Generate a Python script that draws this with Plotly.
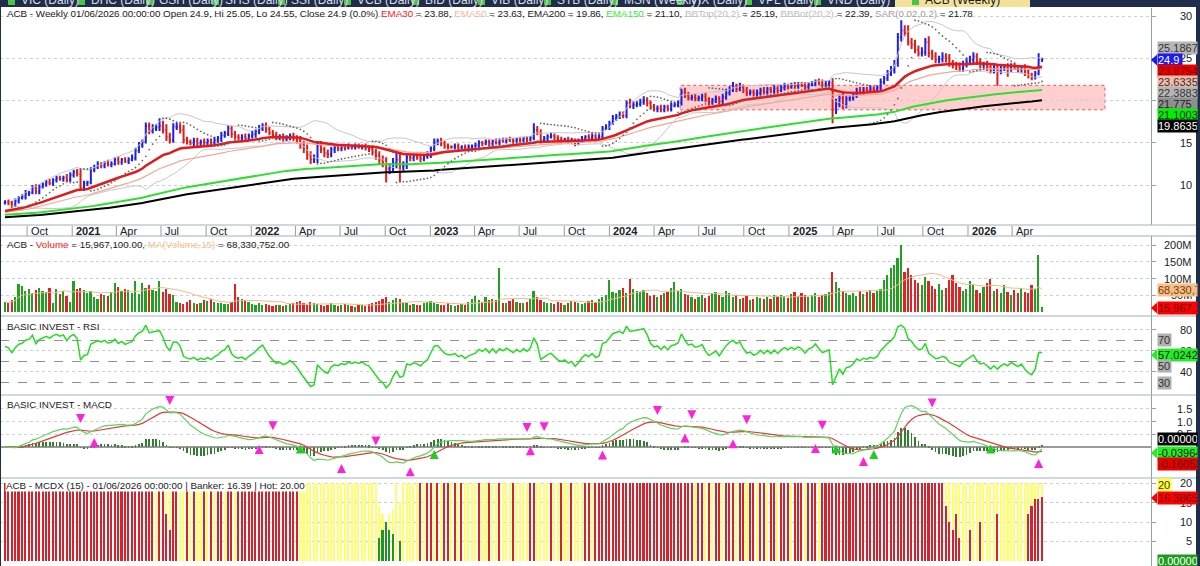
import numpy as np
import pandas as pd
import plotly.graph_objects as go

# ---------------- data ----------------
start_date = "2020-08-17"
first_open = 7.9
close = [
 8.0,7.9,7.6,8.1,8.5,8.6,9.0,9.1,9.7,9.2,9.8,10.1,10.3,10.2,10.6,10.8,10.7,10.9,10.6,11.2,
 11.5,11.3,9.7,10.2,10.3,11.8,12.1,12.4,12.3,12.6,12.4,12.5,13.0,12.7,13.0,12.8,13.0,13.2,14.1,14.7,
 15.1,17.0,16.4,16.7,16.8,17.0,16.5,15.7,15.3,16.9,16.9,16.5,15.3,15.1,15.0,15.2,14.9,15.1,15.0,15.2,
 15.0,15.3,15.5,15.9,16.1,16.7,16.0,15.7,15.6,15.7,15.5,15.8,16.0,16.3,16.7,17.0,16.6,16.2,15.9,15.6,
 15.7,15.5,15.6,15.8,15.6,15.3,14.8,14.3,13.6,13.0,13.1,14.7,14.2,13.8,13.6,14.2,14.4,14.3,14.5,14.4,
 14.6,14.5,14.6,14.5,14.6,14.4,14.3,13.9,13.5,13.0,12.7,11.9,12.1,12.6,13.0,12.2,12.3,13.3,13.2,13.4,
 13.3,13.1,13.4,13.6,14.3,15.1,15.2,14.9,14.6,14.5,14.5,14.6,14.4,14.5,14.3,14.5,14.6,14.7,15.0,14.9,
 15.1,14.9,15.2,15.0,15.3,15.2,15.4,15.3,15.2,15.4,15.3,15.5,15.4,15.6,16.5,16.2,15.3,15.5,15.7,15.8,
 15.6,15.4,15.3,15.4,15.2,15.3,15.0,15.2,15.5,15.7,15.6,15.8,15.6,15.7,16.7,16.8,17.3,17.9,18.1,18.3,
 18.2,19.7,19.4,19.5,19.6,19.8,20.0,19.7,19.2,19.0,19.1,18.9,19.2,19.0,19.4,19.5,19.7,21.0,20.6,20.3,
 20.4,20.2,20.3,20.5,20.1,19.8,20.0,20.2,19.9,20.4,20.9,21.3,21.6,21.4,21.6,21.2,20.9,21.0,20.8,20.9,
 21.2,21.0,21.3,21.1,21.4,21.2,21.5,21.7,21.6,21.8,21.7,21.9,21.8,21.6,21.9,22.0,22.3,22.1,21.9,22.0,
 22.1,18.9,19.6,20.3,19.5,20.2,20.3,20.6,21.2,21.0,21.3,21.2,21.4,21.3,21.5,22.2,22.6,23.2,23.6,24.4,
 27.5,28.3,28.0,26.9,26.6,26.0,25.6,25.7,26.9,25.6,25.2,24.8,24.9,25.2,25.0,24.4,24.2,24.0,23.8,24.3,
 24.6,24.8,25.2,24.6,24.2,24.3,24.0,23.6,23.9,23.5,23.8,24.0,23.8,24.1,23.9,23.7,23.9,23.4,23.0,22.8,
 23.2,24.9,24.9]
hi_ext = [
 0.2,0.3,0.2,0.3,0.2,0.3,0.4,0.2,0.3,0.4,0.3,0.2,0.3,0.4,0.2,0.3,0.3,0.2,0.4,0.3,
 0.3,0.4,0.6,0.3,0.2,0.3,0.3,0.4,0.3,0.2,0.4,0.3,0.3,0.4,0.2,0.3,0.3,0.4,0.3,0.4,
 0.3,0.4,0.4,0.5,0.4,0.9,0.6,0.7,0.5,0.4,0.5,0.4,0.6,0.4,0.3,0.4,0.4,0.3,0.4,0.3,
 0.3,0.4,0.3,0.4,0.3,0.4,0.3,0.4,0.3,0.3,0.4,0.3,0.4,0.3,0.4,0.3,0.4,0.3,0.3,0.4,
 0.3,0.4,0.3,0.3,0.4,0.3,0.5,0.4,0.5,0.4,0.5,0.4,0.5,0.3,0.4,0.3,0.3,0.4,0.3,0.3,
 0.3,0.2,0.3,0.3,0.2,0.3,0.3,0.4,0.4,0.5,0.5,0.6,0.5,0.6,0.8,0.7,0.5,0.4,0.4,0.3,
 0.3,0.4,0.3,0.4,0.3,0.4,0.3,0.4,0.3,0.3,0.2,0.3,0.3,0.2,0.3,0.3,0.2,0.3,0.3,0.2,
 0.3,0.3,0.2,0.3,0.2,0.3,0.2,0.3,0.3,0.2,0.3,0.2,0.3,0.2,0.8,0.5,0.4,0.3,0.3,0.4,
 0.3,0.3,0.3,0.2,0.3,0.3,0.2,0.3,0.3,0.2,0.3,0.3,0.2,0.3,0.3,0.4,0.3,0.4,0.3,0.4,
 0.4,0.3,0.5,0.4,0.3,0.4,0.5,0.4,0.3,0.4,0.3,0.4,0.3,0.3,0.4,0.3,0.3,0.4,0.5,0.4,
 0.3,0.4,0.3,0.3,0.4,0.3,0.3,0.4,0.3,0.4,0.5,0.4,0.6,0.4,0.5,0.3,0.4,0.3,0.3,0.4,
 0.3,0.4,0.3,0.3,0.4,0.3,0.3,0.4,0.3,0.3,0.4,0.3,0.3,0.4,0.3,0.3,0.2,0.3,0.4,0.3,
 0.3,0.5,0.6,0.4,0.6,0.4,0.3,0.4,0.3,0.4,0.3,0.3,0.4,0.3,0.3,0.4,0.3,0.4,0.5,0.4,
 0.5,1.2,0.6,0.9,0.5,0.6,0.5,0.6,0.5,0.7,0.4,0.5,0.4,0.5,0.4,0.5,0.4,0.4,0.5,0.4,
 0.4,0.5,0.5,0.4,0.4,0.3,0.4,0.3,0.4,0.3,0.4,0.3,0.4,0.3,0.4,0.3,0.3,0.4,0.3,0.3,
 0.3,0.7,0.15]
lo_ext = [
 0.2,0.3,0.3,0.2,0.3,0.2,0.3,0.3,0.2,0.3,0.3,0.2,0.3,0.2,0.3,0.3,0.2,0.3,0.3,0.2,
 0.3,0.3,0.3,0.4,0.3,0.2,0.3,0.2,0.3,0.3,0.2,0.3,0.2,0.3,0.3,0.2,0.3,0.2,0.3,0.3,
 0.3,0.2,0.4,0.3,0.3,0.4,0.4,0.5,0.4,0.3,0.4,0.4,0.4,0.3,0.3,0.4,0.3,0.3,0.4,0.3,
 0.3,0.3,0.3,0.4,0.3,0.3,0.4,0.3,0.3,0.4,0.3,0.3,0.3,0.4,0.3,0.3,0.4,0.3,0.4,0.3,
 0.3,0.4,0.3,0.3,0.4,0.4,0.5,0.5,0.6,0.5,0.4,0.5,0.4,0.5,0.4,0.3,0.4,0.3,0.3,0.3,
 0.2,0.3,0.3,0.2,0.3,0.3,0.4,0.4,0.5,0.5,0.6,1.6,0.6,0.5,0.6,1.8,0.6,0.4,0.4,0.4,
 0.3,0.4,0.3,0.3,0.4,0.3,0.4,0.3,0.3,0.3,0.2,0.3,0.3,0.2,0.3,0.3,0.3,0.2,0.3,0.3,
 0.2,0.3,0.3,0.2,0.3,0.2,0.3,0.2,0.3,0.2,0.3,0.2,0.3,0.2,0.3,0.3,0.4,0.3,0.3,0.2,
 0.3,0.3,0.3,0.2,0.3,0.3,0.4,0.3,0.2,0.3,0.2,0.3,0.3,0.2,0.3,0.2,0.3,0.2,0.3,0.3,
 0.3,0.3,0.3,0.4,0.3,0.3,0.3,0.4,0.3,0.3,0.4,0.3,0.3,0.3,0.3,0.2,0.3,0.3,0.3,0.3,
 0.3,0.3,0.3,0.4,0.3,0.4,0.3,0.3,0.4,0.3,0.3,0.3,0.3,0.4,0.3,0.3,0.4,0.3,0.3,0.3,
 0.3,0.3,0.3,0.2,0.3,0.3,0.2,0.3,0.3,0.2,0.3,0.3,0.2,0.3,0.3,0.2,0.3,0.3,0.3,0.3,
 0.3,1.6,0.5,0.4,0.5,0.4,0.3,0.3,0.3,0.3,0.3,0.3,0.3,0.3,0.3,0.3,0.3,0.3,0.3,0.4,
 0.4,0.5,0.4,0.4,0.5,0.4,0.4,0.4,0.4,0.5,0.4,0.4,0.4,0.4,0.5,0.4,0.4,0.4,0.4,0.4,
 0.4,0.4,0.5,0.4,0.4,0.4,0.5,0.4,0.4,1.75,0.4,0.3,1.0,0.4,0.3,0.4,0.4,0.5,0.4,0.4,
 0.3,0.2,0.35]
volume_m = [
 30,28,35,45,84,79,62,70,58,66,72,62,60,73,26,68,55,62,48,30,
 94,70,72,66,58,62,45,40,55,52,48,60,88,75,62,70,66,58,94,55,
 88,72,80,66,62,94,60,70,55,50,30,28,25,30,35,26,24,28,35,33,
 38,30,26,28,25,24,30,83,45,40,36,30,24,22,26,20,24,22,18,20,
 22,18,20,24,26,30,34,28,22,30,26,24,20,18,22,26,20,18,22,24,
 20,18,16,22,20,18,24,26,30,34,40,44,30,36,42,38,28,26,22,24,
 20,22,26,30,34,28,24,22,20,26,22,18,20,24,22,30,40,48,36,30,
 44,36,40,36,130,26,28,34,38,30,28,26,30,40,62,44,36,30,28,26,
 24,30,26,22,28,34,30,26,24,28,32,36,30,40,46,52,96,60,58,66,
 72,58,100,70,64,60,66,58,48,52,44,50,56,60,72,90,62,68,54,50,
 46,40,44,50,42,48,56,60,50,46,62,58,44,52,40,42,48,36,40,46,
 42,38,44,40,50,46,52,48,42,54,60,48,56,50,44,52,58,46,50,54,
 60,120,90,72,64,58,50,56,48,62,54,60,66,58,64,70,96,110,130,140,
 160,200,120,130,110,95,88,80,105,92,78,70,84,66,72,96,110,86,74,62,
 70,92,80,66,58,74,86,100,64,70,56,82,60,52,66,58,72,60,56,80,
 70,170,15.9671]
banker = [
 20,20,19,20,20,20,20,20,20,20,20,20,20,20,20,20,20,20,20,20,
 20,20,18,19,20,20,20,20,20,20,20,20,20,20,20,20,20,20,20,20,
 20,20,20,20,0,20,20,12,8,20,20,0,0,20,0,20,0,0,20,0,
 20,0,20,20,0,20,20,0,20,20,20,20,20,20,20,20,20,20,20,20,
 20,20,20,20,20,20,0,0,0,0,0,0,0,0,0,0,0,0,0,0,
 0,0,0,0,0,0,0,0,0,0,0,0,0,0,0,0,0,0,0,0,
 0,20,0,20,20,0,20,0,20,20,0,20,0,20,0,0,0,0,20,0,
 0,20,0,0,20,0,0,0,20,0,0,0,0,20,20,0,0,0,0,20,
 0,0,20,0,0,20,0,0,0,20,20,0,20,20,20,20,20,20,20,20,
 20,20,20,20,20,20,20,20,20,20,20,20,20,20,20,20,20,20,20,20,
 20,0,20,20,0,20,0,20,20,0,20,20,20,0,20,20,0,20,20,0,
 20,20,0,20,20,0,20,20,20,0,20,20,20,0,20,20,20,0,20,20,
 20,20,20,20,20,20,20,20,20,20,20,20,20,20,20,20,20,20,20,20,
 20,20,20,20,20,20,20,20,20,20,20,20,20,20,14,10,8,12,6,0,
 0,8,0,0,10,0,0,0,0,12,0,0,0,0,0,0,0,0,12,14,
 16,16,16.39]
hot = [
 20,20,20,20,20,20,20,20,20,20,20,20,20,20,20,20,20,20,20,20,
 20,20,20,20,20,20,20,20,20,20,20,20,20,20,20,20,20,20,20,20,
 20,20,20,20,20,20,20,20,20,20,20,20,20,20,20,20,20,20,20,20,
 20,20,20,20,20,20,20,20,20,20,20,20,20,20,20,20,20,20,20,20,
 20,20,20,20,20,20,20,20,20,20,20,20,20,20,20,20,20,20,20,20,
 20,20,20,20,20,20,20,20,20,14,12,10,12,13,20,15,20,20,20,20,
 20,20,20,20,20,20,20,20,20,20,20,20,20,20,20,20,20,20,20,20,
 20,20,20,20,20,20,20,20,20,20,20,20,20,20,20,20,20,20,20,20,
 20,20,20,20,20,20,20,20,20,20,20,20,20,20,20,20,20,20,20,20,
 20,20,20,20,20,20,20,20,20,20,20,20,20,20,20,20,20,20,20,20,
 20,20,20,20,20,20,20,20,20,20,20,20,20,20,20,20,20,20,20,20,
 20,20,20,20,20,20,20,20,20,20,20,20,20,20,20,20,20,20,20,20,
 20,20,20,20,20,20,20,20,20,20,20,20,20,20,20,20,20,20,20,20,
 20,20,20,20,20,20,20,20,20,20,20,20,20,20,20,20,20,20,20,20,
 20,20,20,20,20,20,20,20,20,20,20,20,20,20,20,20,20,20,20,20,
 20,20,20]
retail = [
 0,0,0,0,0,0,0,0,0,0,0,0,0,0,0,0,0,0,0,0,
 0,0,0,0,0,0,0,0,0,0,0,0,0,0,0,0,0,0,0,0,
 0,0,0,0,0,0,0,0,0,0,0,0,0,0,0,0,0,0,0,0,
 0,0,0,0,0,0,0,0,0,0,0,0,0,0,0,0,0,0,0,0,
 0,0,0,0,0,0,0,0,0,0,0,0,0,0,0,0,0,0,0,0,
 0,0,0,0,0,0,0,0,0,6,8,10,8,7,0,5,0,0,0,0,
 0,0,0,0,0,0,0,0,0,0,0,0,0,0,0,0,0,0,0,0,
 0,0,0,0,0,0,0,0,0,0,0,0,0,0,0,0,0,0,0,0,
 0,0,0,0,0,0,0,0,0,0,0,0,0,0,0,0,0,0,0,0,
 0,0,0,0,0,0,0,0,0,0,0,0,0,0,0,0,0,0,0,0,
 0,0,0,0,0,0,0,0,0,0,0,0,0,0,0,0,0,0,0,0,
 0,0,0,0,0,0,0,0,0,0,0,0,0,0,0,0,0,0,0,0,
 0,0,0,0,0,0,0,0,0,0,0,0,0,0,0,0,0,0,0,0,
 0,0,0,0,0,0,0,0,0,0,0,0,0,0,0,0,0,0,0,0,
 0,0,0,0,0,0,0,0,0,0,0,0,0,0,0,0,0,0,0,0,
 0,0,0]

ema_seeds = {30: 6.84, 50: 6.7, 150: 6.45, 200: 6.18}
rsi_seed_gain, rsi_seed_loss = 0.20, 0.11
zone_low, zone_high = 18.9, 21.8
zone_start, zone_end = 196.6, 320.3

tick_labels = ["Oct", "2021", "Apr", "Jul", "Oct", "2022", "Apr", "Jul", "Oct", "2023", "Apr", "Jul",
               "Oct", "2024", "Apr", "Jul", "Oct", "2025", "Apr", "Jul", "Oct", "2026", "Apr"]
tick_dates = ["2020-10-01", "2021-01-01", "2021-04-01", "2021-07-01", "2021-10-01", "2022-01-01",
              "2022-04-01", "2022-07-01", "2022-10-01", "2023-01-01", "2023-04-01", "2023-07-01",
              "2023-10-01", "2024-01-01", "2024-04-01", "2024-07-01", "2024-10-01", "2025-01-01",
              "2025-04-01", "2025-07-01", "2025-10-01", "2026-01-01", "2026-04-01"]

tab_names = ["VIC (Daily)", "DHC (Daily)", "GSH (Daily)", "SHS (Daily)", "SSI (Daily)", "VCB (Daily)",
             "BID (Daily)", "VIB (Daily)", "STB (Daily)", "MSN (Weekly)", "VIX (Daily)", "VPL (Daily)",
             "VND (Daily)", "ACB (Weekly)"]

# ---------------- computations ----------------
n = len(close)
X = np.arange(n)
c = np.array(close, float)
o = np.concatenate([[first_open], c[:-1]])
h = np.maximum(o, c) + np.array(hi_ext)
l = np.minimum(o, c) - np.array(lo_ext)
vol = np.array(volume_m) * 1e6


def ema(x, span, seed):
    a = 2.0 / (span + 1)
    e = seed
    out = []
    for v in x:
        e = e + a * (v - e)
        out.append(e)
    return np.array(out)


e30 = ema(c, 30, ema_seeds[30])
e50 = ema(c, 50, ema_seeds[50])
e150 = ema(c, 150, ema_seeds[150])
e200 = ema(c, 200, ema_seeds[200])
s = pd.Series(c)
mid = s.rolling(20, min_periods=3).mean()
sd = s.rolling(20, min_periods=3).std(ddof=0)
bbt = mid + 2 * sd
bbb = mid - 2 * sd


def psar(h, l, step=0.02, mx=0.2):
    n = len(h)
    sar = np.full(n, np.nan)
    bull = True
    af = step
    ep = h[0]
    sar[0] = l[0]
    for i in range(1, n):
        prev = sar[i - 1]
        sv = prev + af * (ep - prev)
        if bull:
            sv = min(sv, l[i - 1], l[max(i - 2, 0)])
            if l[i] < sv:
                bull = False
                sv = ep
                ep = l[i]
                af = step
            elif h[i] > ep:
                ep = h[i]
                af = min(af + step, mx)
        else:
            sv = max(sv, h[i - 1], h[max(i - 2, 0)])
            if h[i] > sv:
                bull = True
                sv = ep
                ep = h[i]
                af = step
            elif l[i] < ep:
                ep = l[i]
                af = min(af + step, mx)
        sar[i] = sv
    return sar


sar = psar(h, l)
sar[:4] = np.nan

# RSI (Wilder, 14)
ag, al = rsi_seed_gain, rsi_seed_loss
rsi = [100 - 100 / (1 + ag / al)]
for i in range(1, n):
    ch = c[i] - c[i - 1]
    ag = (ag * 13 + max(ch, 0)) / 14
    al = (al * 13 + max(-ch, 0)) / 14
    rsi.append(100 - 100 / (1 + ag / al))
rsi = np.array(rsi)

e12 = ema(c, 12, c[0])
e26 = ema(c, 26, c[0])
macd = e12 - e26
sig = ema(macd, 9, macd[0])
hist = macd - sig

vma = pd.Series(vol).rolling(15, min_periods=1).mean()

# ---------------- layout helpers ----------------
W, H = 1200, 566
PX_PER_BAR = 3.434
x_min = -5 / PX_PER_BAR
x_max = (1151 - 5) / PX_PER_BAR
XD = 1151 / W


def py(p):
    return 1 - p / H


FONT = "Liberation Sans, Arial, sans-serif"
AXC = "#8ea3ad"

fig = go.Figure()

# price panel
fig.add_trace(go.Scatter(x=X, y=bbt, mode="lines", line=dict(color="#c8c8c8", width=1), xaxis="x", yaxis="y"))
fig.add_trace(go.Scatter(x=X, y=bbb, mode="lines", line=dict(color="#c8c8c8", width=1), xaxis="x", yaxis="y"))
fig.add_trace(go.Scatter(x=X, y=e200, mode="lines", line=dict(color="#000000", width=2), xaxis="x", yaxis="y"))
fig.add_trace(go.Scatter(x=X, y=e150, mode="lines", line=dict(color="#2ee02e", width=2), xaxis="x", yaxis="y"))
fig.add_trace(go.Scatter(x=X, y=e50, mode="lines", line=dict(color="#f0a898", width=1.2), xaxis="x", yaxis="y"))
fig.add_trace(go.Scatter(x=X, y=e30, mode="lines", line=dict(color="#e21a1a", width=2.5), xaxis="x", yaxis="y"))
fig.add_trace(go.Scatter(x=X, y=sar, mode="markers", marker=dict(color="#6a6a6a", size=1.8), xaxis="x", yaxis="y"))
fig.add_trace(go.Ohlc(x=X, open=o, high=h, low=l, close=c, xaxis="x", yaxis="y", tickwidth=0.35,
                      increasing=dict(line=dict(color="#1f1fe6", width=2)),
                      decreasing=dict(line=dict(color="#e01b1b", width=2))))

# volume panel
vcol = ["#22a022" if c[i] >= o[i] else "#e02424" for i in range(n)]
fig.add_trace(go.Bar(x=X, y=vol, marker=dict(color=vcol, line=dict(width=0)), width=0.5, xaxis="x2", yaxis="y2"))
fig.add_trace(go.Scatter(x=X, y=vma, mode="lines", line=dict(color="#f2b98a", width=1), xaxis="x2", yaxis="y2"))

# RSI panel
for lv in (70, 50, 30):
    fig.add_trace(go.Scatter(x=[x_min, x_max], y=[lv, lv], mode="lines",
                             line=dict(color="#909090", width=1, dash="dash"), xaxis="x3", yaxis="y3"))
fig.add_trace(go.Scatter(x=X, y=rsi, mode="lines", line=dict(color="#22dd22", width=1.5), xaxis="x3", yaxis="y3"))

# MACD panel
fig.add_trace(go.Scatter(x=[x_min, x_max], y=[0, 0], mode="lines", line=dict(color="#7a7a7a", width=1.5),
                         xaxis="x4", yaxis="y4"))
fig.add_trace(go.Bar(x=X, y=hist, marker=dict(color="#2f7f2f", line=dict(width=0)), width=0.22,
                     xaxis="x4", yaxis="y4"))
fig.add_trace(go.Scatter(x=X, y=sig, mode="lines", line=dict(color="#e03c3c", width=1.2), xaxis="x4", yaxis="y4"))
fig.add_trace(go.Scatter(x=X, y=macd, mode="lines", line=dict(color="#5fd35f", width=1.2), xaxis="x4", yaxis="y4"))
dd = macd - sig
ux, uy, dx_, dy_ = [], [], [], []
for i in range(6, n):
    if dd[i] > 0 >= dd[i - 1]:
        ux.append(i); uy.append(min(macd[i], sig[i]) - 0.28)
    elif dd[i] < 0 <= dd[i - 1]:
        dx_.append(i); dy_.append(max(macd[i], sig[i]) + 0.28)
fig.add_trace(go.Scatter(x=ux, y=uy, mode="markers", marker=dict(symbol="arrow-up", size=9, color="#ff22dd"),
                         xaxis="x4", yaxis="y4"))
fig.add_trace(go.Scatter(x=dx_, y=dy_, mode="markers", marker=dict(symbol="arrow-down", size=9, color="#ff22dd"),
                         xaxis="x4", yaxis="y4"))
gx, gy = [], []
for i in range(6, n):
    if (macd[i] > 0) != (macd[i - 1] > 0):
        gx.append(i); gy.append(-0.12 if macd[i] > 0 else 0.1)
fig.add_trace(go.Scatter(x=gx, y=gy, mode="markers", marker=dict(symbol="arrow-up", size=9, color="#22cc22"),
                         xaxis="x4", yaxis="y4"))

# MCDX panel
fig.add_trace(go.Bar(x=X, y=hot, marker=dict(color="#ffff6e", line=dict(width=0)), width=0.45, xaxis="x5", yaxis="y5"))
fig.add_trace(go.Bar(x=X, y=banker, marker=dict(color="#d6222c", line=dict(width=0)), width=0.45, xaxis="x5", yaxis="y5"))
fig.add_trace(go.Bar(x=X, y=retail, marker=dict(color="#1e961e", line=dict(width=0)), width=0.45, xaxis="x5", yaxis="y5"))

# axes
panels = [
    ("", (225, 8), [5.27, 30.95], [10, 15, 20, 25, 30], ["10", "15", "20", "25", "30"]),
    ("2", (316, 236), [-11.9e6, 226.9e6], [50e6, 100e6, 150e6, 200e6], ["50M", "100M", "150M", "200M"]),
    ("3", (395, 316), [18.1, 93.3], [40, 60, 80], ["40", "60", "80"]),
    ("4", (478, 395), [-1.22, 2.05], [0.5, 1.0, 1.5], ["0.5", "1.0", "1.5"]),
    ("5", (566, 478), [-1.3, 21.3], [5, 10, 15, 20], ["5", "10", "15", "20"]),
]
lay = {}
ann = []
for k, (bot, top), rng, tv, tt in panels:
    lay["xaxis" + k] = dict(domain=[0, XD], range=[x_min, x_max], visible=False, anchor="y" + k,
                            **({} if k == "" else {"matches": "x"}))
    lay["yaxis" + k] = dict(domain=[py(bot), py(top)], range=rng, side="right", anchor="x" + k,
                            tickvals=tv, showticklabels=False, showline=True, linecolor=AXC, linewidth=1,
                            ticks="outside", ticklen=4, tickcolor=AXC, showgrid=True, gridcolor="#cfcfcf",
                            griddash="dot", gridwidth=1, zeroline=False, fixedrange=True)
    for v, t in zip(tv, tt):
        ann.append(dict(x=1194 / W, y=v, xref="paper", yref="y" + k, text=t, showarrow=False,
                        xanchor="right", yanchor="middle", font=dict(family=FONT, size=11, color="#222")))
fig.update_layout(**lay)
fig.update_layout(xaxis_rangeslider_visible=False)

shapes = []

# support zone
shapes.append(dict(type="rect", xref="x", yref="y", x0=zone_start, x1=zone_end, y0=zone_low, y1=zone_high,
                   fillcolor="rgba(255,140,140,0.42)", line=dict(color="#e85a5a", width=1, dash="dot"),
                   layer="below"))

# panel separators
for yp in (225, 236, 316, 395, 478):
    shapes.append(dict(type="line", xref="paper", yref="paper", x0=0, x1=1, y0=py(yp), y1=py(yp),
                       line=dict(color="#9fb2bb", width=1)))
# top tab bar & right border
shapes.append(dict(type="rect", xref="paper", yref="paper", x0=0, x1=1, y0=py(7), y1=1,
                   fillcolor="#1f2d4a", line=dict(width=0)))
shapes.append(dict(type="rect", xref="paper", yref="paper", x0=1196 / W, x1=1, y0=0, y1=1,
                   fillcolor="#1f2d4a", line=dict(width=0)))
shapes.append(dict(type="line", xref="paper", yref="paper", x0=0.5 / W, x1=0.5 / W, y0=0, y1=py(7),
                   line=dict(color="#1f2d4a", width=1)))

tab_x = [8, 78, 146, 212, 278, 344, 412, 478, 544, 611, 677, 745, 814, 912]
for i, name in enumerate(tab_names):
    xl = tab_x[i]
    if name == "ACB (Weekly)":
        shapes.append(dict(type="rect", xref="paper", yref="paper", x0=895 / W, x1=1030 / W, y0=py(7), y1=1,
                           fillcolor="#f3e19a", line=dict(width=0)))
    shapes.append(dict(type="rect", xref="paper", yref="paper", x0=xl / W, x1=(xl + 7) / W, y0=py(5), y1=1,
                       fillcolor="#4cc24c", line=dict(width=0)))
    ann.append(dict(x=(xl + 11) / W, y=py(0), xref="paper", yref="paper", text=name, showarrow=False,
                    xanchor="left", yanchor="middle",
                    font=dict(family=FONT, size=12, color="#1a1a1a" if name == "ACB (Weekly)" else "#d8dde6")))

# x tick marks & labels
d0 = pd.Timestamp(start_date)
for lab, ds in zip(tick_labels, tick_dates):
    pos = (pd.Timestamp(ds) - d0).days / 7.0
    shapes.append(dict(type="line", xref="x", yref="paper", x0=pos, x1=pos, y0=py(236), y1=py(226),
                       line=dict(color="#9a9a9a", width=1)))
    txt = "<b>%s</b>" % lab if lab.isdigit() else lab
    ann.append(dict(x=pos + 0.5, y=py(231), xref="x", yref="paper", text=txt, showarrow=False,
                    xanchor="left", yanchor="middle", font=dict(family=FONT, size=11, color="#222")))


# panel headers
def head(text, yp, bg=None):
    d = dict(x=5 / W, y=py(yp), xref="paper", yref="paper", text=text, showarrow=False,
             xanchor="left", yanchor="middle", font=dict(family=FONT, size=9.8, color="#1a1a1a"))
    if bg:
        d.update(bgcolor=bg, borderpad=0)
    ann.append(d)


def col(t, cl):
    return "<span style='color:%s'>%s</span>" % (cl, t)


head("ACB - Weekly 01/06/2026 00:00:00 Open 24.9, Hi 25.05, Lo 24.55, Close 24.9 (0.0%) "
     + col("EMA30", "#ff1a1a") + " = 23.88, " + col("EMA50", "#f5b8a8") + " = 23.63, EMA200 = 19.86, "
     + col("EMA150", "#33ee33") + " = 21.10, " + col("BBTop(20,2)", "#bdbdbd") + " = 25.19, "
     + col("BBBot(20,2)", "#bdbdbd") + " = 22.39, " + col("SAR(0.02,0.2)", "#a0a0a0") + " = 21.78", 14)
head("ACB - " + col("Volume", "#ff2020") + " = 15,967,100.00, " + col("MA(Volume,15)", "#f5c08a")
     + " = 68,330,752.00", 245)
head("BASIC INVEST - RSI", 326)
head("BASIC INVEST - MACD", 404)
head("ACB - MCDX (15) - 01/06/2026 00:00:00 | Banker: 16.39 | Hot: 20.00", 485, bg="white")


# value boxes on the right axis
def box(text, yp, bg, fg, arrow=False, x0=1157, width=39):
    ann.append(dict(x=x0 / W, y=py(yp), xref="paper", yref="paper", text=text, showarrow=False,
                    xanchor="left", yanchor="middle", bgcolor=bg, borderpad=0, width=width, align="left",
                    font=dict(family=FONT, size=11, color=fg)))
    if arrow:
        shapes.append(dict(type="path", xref="paper", yref="paper",
                           path="M %f %f L %f %f L %f %f Z" % (1151 / W, py(yp), x0 / W, py(yp - 5.5),
                                                               x0 / W, py(yp + 5.5)),
                           fillcolor=bg, line=dict(width=0)))


box("25.1867", 48, "#b5b5b5", "#333")
box("24.9", 60, "#1c1cf0", "#ffffff", arrow=True, width=24)
box("23.8754", 71, "#e60000", "#7a0000")
box("23.6335", 82, "#f4b9a9", "#333")
box("22.3883", 93, "#b5b5b5", "#333")
box("21.775", 104, "#8f8f8f", "#222")
box("21.1003", 115, "#00f000", "#222")
box("19.8635", 126, "#000000", "#ffffff")
box("68,330,752", 290, "#f5c08a", "#7a3a00")
box("15,967,100", 308, "#ff0000", "#6a0000", arrow=True)
box("70", 340, "#b0b0b0", "#333", width=13)
box("57.0242", 355, "#22ee22", "#1a1a1a", arrow=True)
box("50", 366, "#b0b0b0", "#333", width=13)
box("30", 383, "#b0b0b0", "#333", width=13)
box("0.00000", 439, "#000000", "#ffffff")
box("-0.03964", 453, "#22ee22", "#1a1a1a", arrow=True)
box("-0.16053", 464, "#e60000", "#6a0000")
box("20", 485, "#ffff33", "#333", width=13)
box("16.3865", 498, "#ff0000", "#6a0000", arrow=True)
box("0.00000", 561, "#1e9a1e", "#ffffff")

fig.update_layout(width=W, height=H, margin=dict(l=0, r=0, t=0, b=0), paper_bgcolor="white",
                  plot_bgcolor="white", showlegend=False, barmode="overlay", bargap=0,
                  shapes=shapes, annotations=ann, font=dict(family=FONT))
fig.write_html("out.html")
